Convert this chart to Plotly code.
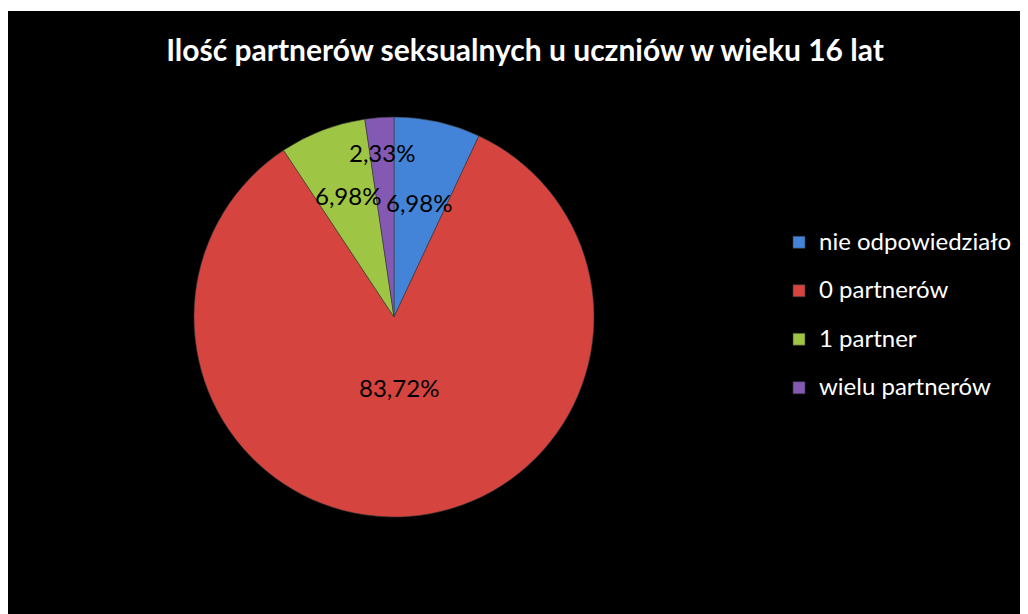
import math
import plotly.graph_objects as go

categories = ["nie odpowiedziało", "0 partnerów", "1 partner", "wielu partnerów"]
values = [6.98, 83.72, 6.98, 2.33]
colors = ["#4384d8", "#d6443f", "#9fc544", "#8459b4"]
label_radius = [0.585, 0.355, 0.65, 0.825]  # radial position of each label (fraction of radius)
title_text = "Ilość partnerów seksualnych u uczniów w wieku 16 lat"

W, H = 1028, 614
FONT = "Lato, Open Sans, sans-serif"

# pie geometry in figure pixels (margins are zero, so paper == figure)
CX, CY, R = 386, 309, 200
dom_x = [(CX - R) / W, (CX + R) / W]
dom_y = [1 - (CY + R) / H, 1 - (CY - R) / H]

# legend entries: text drawn at 24px while the legend row height follows a larger font
legend_labels = [f"<span style='font-size:24px;baseline-shift:6px'>{c}</span>" for c in categories]

fig = go.Figure()
fig.add_trace(go.Pie(
    labels=legend_labels,
    values=values,
    sort=False,
    direction="clockwise",
    rotation=0,
    marker=dict(colors=colors, line=dict(color="#3a3a3a", width=0.6)),
    textinfo="none",
    domain=dict(x=dom_x, y=dom_y),
    hoverinfo="percent",
))

# data labels placed along each slice's mid-angle
total = sum(values)
annotations = []
cum = 0.0
for v, f in zip(values, label_radius):
    theta = 2 * math.pi * (cum + v / 2) / total
    cum += v
    px = CX + f * R * math.sin(theta)
    py = CY - f * R * math.cos(theta)
    annotations.append(dict(
        x=px / W, y=1 - py / H, xref="paper", yref="paper",
        text=f"{v:.2f}%".replace(".", ","), showarrow=False,
        xanchor="center", yanchor="middle",
        font=dict(family=FONT, size=24, color="black"),
    ))

fig.update_layout(
    width=W, height=H,
    margin=dict(l=0, r=0, t=0, b=0),
    paper_bgcolor="black",
    plot_bgcolor="black",
    separators=",.",
    annotations=annotations,
    title=dict(text="<b>" + title_text + "</b>", x=517 / W, xanchor="center",
               y=1 - 42 / H, yanchor="middle",
               font=dict(family=FONT, size=30, color="white")),
    legend=dict(x=771 / W, xanchor="left", y=1 - 205 / H, yanchor="top",
                font=dict(family=FONT, size=35, color="white"),
                bgcolor="rgba(0,0,0,0)", itemwidth=30),
    shapes=[dict(type="rect", xref="paper", yref="paper", x0=0, x1=1, y0=1 - 3 / H, y1=1,
                 fillcolor="white", line=dict(width=0), layer="above")],
)

fig.write_html("out.html")
